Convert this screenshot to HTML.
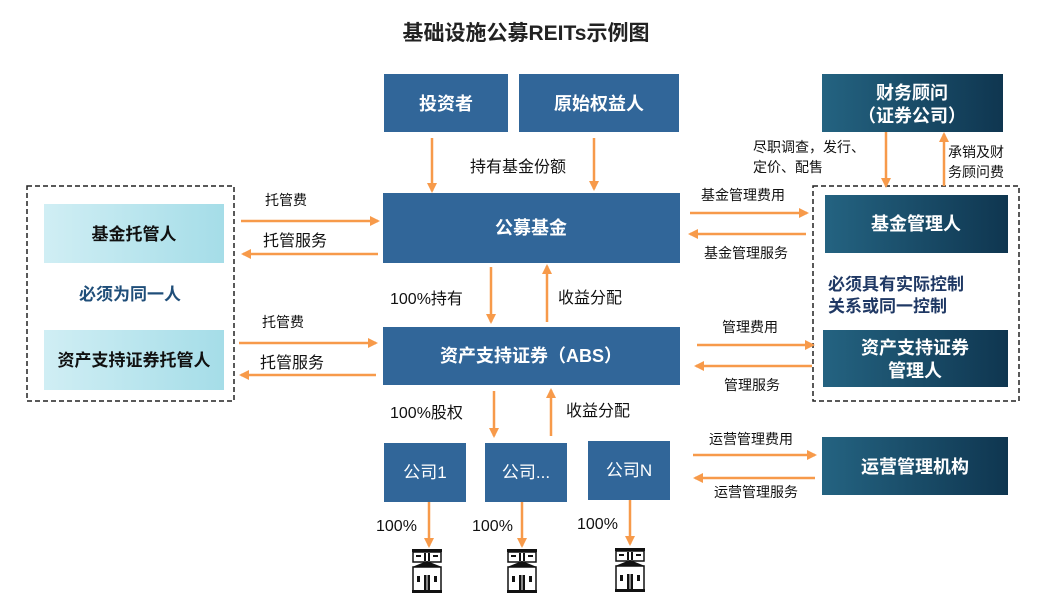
<!DOCTYPE html>
<html><head><meta charset="utf-8">
<style>
html,body{margin:0;padding:0;background:#fff;}
svg{display:block;font-family:"Liberation Sans","Noto Sans CJK SC",sans-serif;}
.w{fill:#fff;font-weight:bold;font-size:18px;}
.k{fill:#111;font-size:14px;}
.k2{fill:#111;font-size:16px;}
.o{stroke:#f79a4a;stroke-width:2.5;fill:none;}
</style></head><body>
<svg width="1050" height="599" viewBox="0 0 1050 599" xmlns="http://www.w3.org/2000/svg">
<defs>
<linearGradient id="dk" x1="0" x2="1" y1="0" y2="0"><stop offset="0" stop-color="#246381"/><stop offset="1" stop-color="#0f3650"/></linearGradient>
<linearGradient id="lt" x1="0" x2="1" y1="0" y2="0"><stop offset="0" stop-color="#d0eef4"/><stop offset="1" stop-color="#a5dde8"/></linearGradient>
<marker id="ah" markerWidth="10" markerHeight="10" refX="8" refY="5" orient="auto" markerUnits="userSpaceOnUse"><path d="M0,0 L10,5 L0,10 Z" fill="#f79a4a"/></marker>
<g id="bld">
<rect x="-15" y="0" width="30" height="3" fill="#111"/>
<rect x="-14" y="3" width="28" height="10" fill="#fff" stroke="#111" stroke-width="1.5"/>
<rect x="-3" y="4" width="2" height="8" fill="#111"/><rect x="1" y="4" width="2" height="8" fill="#111"/>
<rect x="-11" y="6" width="5" height="2" fill="#111"/><rect x="6" y="6" width="5" height="2" fill="#111"/>
<path d="M-15,18 L0,12 L15,18 Z" fill="#111"/>
<rect x="-14" y="18" width="28" height="24" fill="#fff" stroke="#111" stroke-width="1.5"/>
<rect x="-10" y="27" width="3" height="6" fill="#111"/><rect x="7" y="27" width="3" height="6" fill="#111"/>
<rect x="-3" y="26" width="6" height="16" fill="#111"/><rect x="-0.5" y="26" width="1" height="16" fill="#fff"/>
<rect x="-15" y="41" width="30" height="3" fill="#111"/>
</g>
</defs>

<text x="526" y="40" text-anchor="middle" font-size="21" font-weight="bold" fill="#222">基础设施公募REITs示例图</text>

<rect x="384" y="74" width="124" height="58" fill="#316699"/>
<text x="446" y="110" class="w" text-anchor="middle">投资者</text>
<rect x="519" y="74" width="160" height="58" fill="#316699"/>
<text x="599" y="110" class="w" text-anchor="middle">原始权益人</text>
<rect x="383" y="193" width="297" height="70" fill="#316699"/>
<text x="531" y="234" class="w" text-anchor="middle">公募基金</text>
<rect x="383" y="327" width="297" height="58" fill="#316699"/>
<text x="531" y="362" class="w" text-anchor="middle">资产支持证券（ABS）</text>
<rect x="384" y="443" width="82" height="59" fill="#316699"/>
<text x="425" y="478" fill="#fff" font-size="17" text-anchor="middle">公司1</text>
<rect x="485" y="443" width="82" height="59" fill="#316699"/>
<text x="526" y="478" fill="#fff" font-size="17" text-anchor="middle">公司...</text>
<rect x="588" y="441" width="82" height="59" fill="#316699"/>
<text x="629" y="476" fill="#fff" font-size="17" text-anchor="middle">公司N</text>

<rect x="27" y="186" width="207" height="215" fill="none" stroke="#222" stroke-width="1.5" stroke-dasharray="5,3"/>
<rect x="44" y="204" width="180" height="59" fill="url(#lt)"/>
<text x="134" y="240" text-anchor="middle" font-size="17" font-weight="bold" fill="#111">基金托管人</text>
<text x="130" y="300" text-anchor="middle" font-size="17" font-weight="bold" fill="#1f4e79">必须为同一人</text>
<rect x="44" y="330" width="180" height="60" fill="url(#lt)"/>
<text x="134" y="366" text-anchor="middle" font-size="17" font-weight="bold" fill="#111">资产支持证券托管人</text>

<rect x="822" y="74" width="181" height="58" fill="url(#dk)"/>
<text x="912" y="99" class="w" text-anchor="middle">财务顾问</text>
<text x="912" y="122" class="w" text-anchor="middle">（证券公司）</text>
<rect x="813" y="186" width="206" height="215" fill="none" stroke="#222" stroke-width="1.5" stroke-dasharray="5,3"/>
<rect x="825" y="195" width="183" height="58" fill="url(#dk)"/>
<text x="916" y="230" class="w" text-anchor="middle">基金管理人</text>
<text x="828" y="290" font-size="17" font-weight="bold" fill="#1f3864">必须具有实际控制</text>
<text x="828" y="312" font-size="17" font-weight="bold" fill="#1f3864">关系或同一控制</text>
<rect x="823" y="330" width="185" height="57" fill="url(#dk)"/>
<text x="915" y="354" class="w" text-anchor="middle">资产支持证券</text>
<text x="915" y="377" class="w" text-anchor="middle">管理人</text>
<rect x="822" y="437" width="186" height="58" fill="url(#dk)"/>
<text x="915" y="473" class="w" text-anchor="middle">运营管理机构</text>

<line x1="432" y1="138" x2="432" y2="191" class="o" marker-end="url(#ah)"/>
<line x1="594" y1="138" x2="594" y2="189" class="o" marker-end="url(#ah)"/>
<text x="470" y="172" class="k2">持有基金份额</text>
<line x1="491" y1="267" x2="491" y2="322" class="o" marker-end="url(#ah)"/>
<line x1="547" y1="322" x2="547" y2="266" class="o" marker-end="url(#ah)"/>
<text x="390" y="304" class="k2">100%持有</text>
<text x="558" y="303" class="k2">收益分配</text>
<line x1="494" y1="391" x2="494" y2="436" class="o" marker-end="url(#ah)"/>
<line x1="551" y1="436" x2="551" y2="390" class="o" marker-end="url(#ah)"/>
<text x="390" y="418" class="k2">100%股权</text>
<text x="566" y="416" class="k2">收益分配</text>
<line x1="429" y1="502" x2="429" y2="546" class="o" marker-end="url(#ah)"/>
<line x1="522" y1="502" x2="522" y2="546" class="o" marker-end="url(#ah)"/>
<line x1="630" y1="500" x2="630" y2="544" class="o" marker-end="url(#ah)"/>
<text x="376" y="531" class="k2">100%</text>
<text x="472" y="531" class="k2">100%</text>
<text x="577" y="529" class="k2">100%</text>
<use href="#bld" x="427" y="549"/>
<use href="#bld" x="522" y="549"/>
<use href="#bld" x="630" y="548"/>

<text x="265" y="205" class="k">托管费</text>
<line x1="241" y1="221" x2="378" y2="221" class="o" marker-end="url(#ah)"/>
<text x="263" y="246" class="k2">托管服务</text>
<line x1="378" y1="254" x2="243" y2="254" class="o" marker-end="url(#ah)"/>
<text x="262" y="327" class="k">托管费</text>
<line x1="239" y1="343" x2="376" y2="343" class="o" marker-end="url(#ah)"/>
<text x="260" y="368" class="k2">托管服务</text>
<line x1="376" y1="375" x2="241" y2="375" class="o" marker-end="url(#ah)"/>

<line x1="886" y1="132" x2="886" y2="186" class="o" marker-end="url(#ah)"/>
<line x1="944" y1="186" x2="944" y2="134" class="o" marker-end="url(#ah)"/>
<text x="753" y="152" class="k">尽职调查，发行、</text>
<text x="753" y="172" class="k">定价、配售</text>
<text x="948" y="157" class="k">承销及财</text>
<text x="948" y="177" class="k">务顾问费</text>
<text x="701" y="200" class="k">基金管理费用</text>
<line x1="690" y1="213" x2="807" y2="213" class="o" marker-end="url(#ah)"/>
<line x1="806" y1="234" x2="690" y2="234" class="o" marker-end="url(#ah)"/>
<text x="704" y="258" class="k">基金管理服务</text>
<text x="722" y="332" class="k">管理费用</text>
<line x1="697" y1="345" x2="813" y2="345" class="o" marker-end="url(#ah)"/>
<line x1="812" y1="366" x2="696" y2="366" class="o" marker-end="url(#ah)"/>
<text x="724" y="390" class="k">管理服务</text>
<text x="709" y="444" class="k">运营管理费用</text>
<line x1="693" y1="455" x2="815" y2="455" class="o" marker-end="url(#ah)"/>
<line x1="815" y1="478" x2="695" y2="478" class="o" marker-end="url(#ah)"/>
<text x="714" y="497" class="k">运营管理服务</text>
</svg>
</body></html>
